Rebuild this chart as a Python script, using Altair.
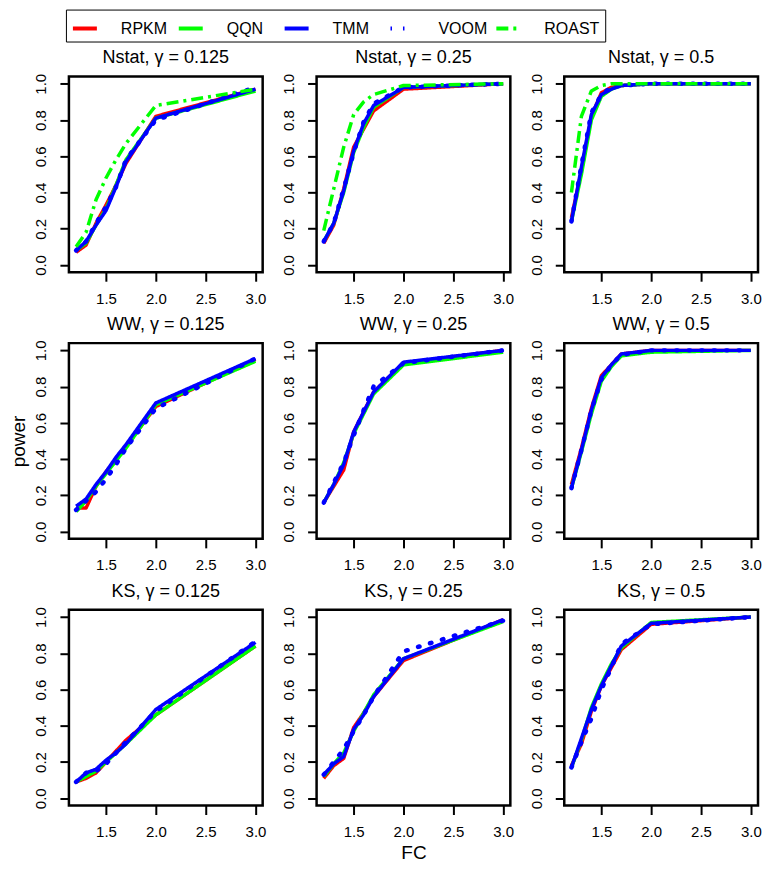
import altair as alt
import pandas as pd

FC = [1.2, 1.3, 1.4, 1.5, 1.6, 1.7, 2.0, 3.0]
METHODS = ["RPKM", "QQN", "TMM", "VOOM", "ROAST"]
COLORS = ["#FF0000", "#00FF00", "#0000FF", "#0000FF", "#00FF00"]
DASHES = [[1, 0], [1, 0], [1, 0], [1.5, 11], [12, 5, 3, 5]]
TESTS = ["Nstat", "WW", "KS"]
GAMMAS = ["0.125", "0.25", "0.5"]

# ---- Nstat ----
nstat_0125 = {
    "RPKM": [0.07, 0.11, 0.23, 0.33, 0.44, 0.56, 0.82, 0.97],
    "QQN": [0.08, 0.12, 0.22, 0.31, 0.44, 0.58, 0.81, 0.96],
    "TMM": [0.08, 0.13, 0.22, 0.30, 0.43, 0.57, 0.81, 0.97],
    "VOOM": [0.08, 0.13, 0.23, 0.32, 0.43, 0.58, 0.80, 0.98],
    "ROAST": [0.10, 0.18, 0.36, 0.48, 0.58, 0.67, 0.88, 0.97],
}
nstat_025 = {
    "RPKM": [0.12, 0.22, 0.42, 0.65, 0.75, 0.85, 0.97, 1.00],
    "QQN": [0.13, 0.23, 0.40, 0.62, 0.76, 0.87, 0.98, 1.00],
    "TMM": [0.13, 0.23, 0.41, 0.63, 0.78, 0.88, 0.98, 1.00],
    "VOOM": [0.13, 0.23, 0.42, 0.62, 0.79, 0.89, 0.98, 1.00],
    "ROAST": [0.19, 0.42, 0.65, 0.83, 0.90, 0.94, 0.99, 1.00],
}
nstat_05 = {
    "RPKM": [0.26, 0.52, 0.82, 0.95, 0.98, 0.99, 1.00, 1.00],
    "QQN": [0.24, 0.50, 0.80, 0.93, 0.97, 0.99, 1.00, 1.00],
    "TMM": [0.24, 0.54, 0.83, 0.94, 0.97, 0.99, 1.00, 1.00],
    "VOOM": [0.24, 0.55, 0.84, 0.94, 0.98, 0.99, 1.00, 1.00],
    "ROAST": [0.40, 0.82, 0.96, 0.99, 1.00, 1.00, 1.00, 1.00],
}
# ---- WW ----
ww_0125 = {
    "RPKM": [0.13, 0.13, 0.25, 0.33, 0.40, 0.47, 0.69, 0.95],
    "QQN": [0.11, 0.17, 0.25, 0.32, 0.39, 0.46, 0.70, 0.94],
    "TMM": [0.14, 0.18, 0.26, 0.33, 0.41, 0.48, 0.71, 0.955],
    "VOOM": [0.12, 0.17, 0.22, 0.29, 0.37, 0.46, 0.68, 0.955],
}
ww_025 = {
    "RPKM": [0.16, 0.25, 0.34, 0.55, 0.66, 0.77, 0.93, 1.00],
    "QQN": [0.16, 0.26, 0.38, 0.54, 0.65, 0.76, 0.92, 0.99],
    "TMM": [0.16, 0.26, 0.37, 0.55, 0.66, 0.77, 0.935, 1.00],
    "VOOM": [0.16, 0.27, 0.38, 0.53, 0.67, 0.80, 0.93, 1.00],
}
ww_05 = {
    "RPKM": [0.26, 0.46, 0.68, 0.86, 0.92, 0.98, 1.00, 1.00],
    "QQN": [0.24, 0.44, 0.65, 0.83, 0.91, 0.97, 0.99, 1.00],
    "TMM": [0.24, 0.45, 0.67, 0.85, 0.92, 0.98, 1.00, 1.00],
    "VOOM": [0.24, 0.45, 0.67, 0.84, 0.92, 0.975, 1.00, 1.00],
}
# ---- KS ----
ks_0125 = {
    "RPKM": [0.09, 0.11, 0.14, 0.20, 0.26, 0.32, 0.46, 0.84],
    "QQN": [0.09, 0.12, 0.15, 0.20, 0.25, 0.30, 0.46, 0.84],
    "TMM": [0.09, 0.14, 0.16, 0.21, 0.25, 0.30, 0.49, 0.86],
    "VOOM": [0.09, 0.14, 0.15, 0.19, 0.25, 0.31, 0.48, 0.865],
}
ks_025 = {
    "RPKM": [0.11, 0.18, 0.22, 0.39, 0.47, 0.56, 0.76, 0.985],
    "QQN": [0.12, 0.19, 0.25, 0.37, 0.47, 0.57, 0.77, 0.975],
    "TMM": [0.13, 0.19, 0.23, 0.38, 0.46, 0.56, 0.77, 0.985],
    "VOOM": [0.13, 0.20, 0.27, 0.37, 0.46, 0.56, 0.81, 0.98],
}
ks_05 = {
    "RPKM": [0.18, 0.30, 0.48, 0.62, 0.72, 0.82, 0.96, 1.00],
    "QQN": [0.17, 0.32, 0.50, 0.63, 0.74, 0.83, 0.97, 1.00],
    "TMM": [0.17, 0.33, 0.49, 0.62, 0.73, 0.84, 0.965, 1.00],
    "VOOM": [0.17, 0.31, 0.44, 0.60, 0.72, 0.85, 0.96, 1.00],
}

PANELS = [
    ("Nstat", "0.125", nstat_0125), ("Nstat", "0.25", nstat_025), ("Nstat", "0.5", nstat_05),
    ("WW", "0.125", ww_0125), ("WW", "0.25", ww_025), ("WW", "0.5", ww_05),
    ("KS", "0.125", ks_0125), ("KS", "0.25", ks_025), ("KS", "0.5", ks_05),
]

FONT = "Liberation Sans"
PW, PH = 194, 196

color_scale = alt.Scale(domain=METHODS, range=COLORS)
dash_scale = alt.Scale(domain=METHODS, range=DASHES)

legend = alt.Legend(
    title=None,
    orient="none",
    legendX=-3,
    legendY=-67,
    direction="horizontal",
    columns=5,
    gridAlign="all",
    columnPadding=-6.5,
    labelOffset=22,
    labelFont=FONT,
    labelFontSize=16,
    labelColor="black",
    symbolType="stroke",
    symbolSize=576,
    symbolStrokeWidth=4,
    padding=5,
    strokeColor="black",
)


def make_panel(i, test, gamma, vals):
    row, col = divmod(i, 3)
    rows = []
    for m in METHODS:
        if m in vals:
            for x, y in zip(FC, vals[m]):
                rows.append({"method": m, "fc": x, "power": y})
    df = pd.DataFrame(rows)

    x_axis = alt.Axis(
        values=[1.5, 2.0, 2.5, 3.0], format=".1f",
        title="FC" if (row == 2 and col == 1) else "",
        titleFont=FONT, titleFontSize=19, titleFontWeight="normal", titleColor="black",
        titleBaseline="alphabetic", titleY=53, titleX=PW / 2, titleAlign="center",
    )
    y_axis = alt.Axis(
        values=[0.0, 0.2, 0.4, 0.6, 0.8, 1.0], format=".1f",
        title="power" if (row == 1 and col == 0) else "",
        titleFont=FONT, titleFontSize=19, titleFontWeight="normal", titleColor="black",
        titleAngle=270, titleBaseline="alphabetic", titleAlign="center",
        titleX=-44, titleY=PH / 2,
    )
    base = alt.Chart(df).encode(
        x=alt.X("fc:Q", scale=alt.Scale(domain=[1.128, 3.072], nice=False, zero=False), axis=x_axis),
        y=alt.Y("power:Q", scale=alt.Scale(domain=[-0.04, 1.04], nice=False, zero=False), axis=y_axis),
        color=alt.Color("method:N", scale=color_scale, legend=legend),
        strokeDash=alt.StrokeDash("method:N", scale=dash_scale, legend=legend),
    )
    layers = []
    for m in METHODS:
        if m not in vals:
            continue
        if m == "VOOM":
            mk = dict(strokeWidth=4.5, strokeCap="round")
        else:
            mk = dict(strokeWidth=3.5, strokeJoin="round")
        layers.append(base.transform_filter(alt.datum.method == m).mark_line(**mk))
    return alt.layer(*layers).properties(
        width=PW, height=PH,
        title=alt.TitleParams(text=f"{test}, \u03b3 = {gamma}"),
    )


panels = [make_panel(i, t, g, v) for i, (t, g, v) in enumerate(PANELS)]

chart = (
    alt.concat(*panels, columns=3, spacing={"row": 71, "column": 54}, bounds="flush")
    .resolve_scale(color="shared", strokeDash="shared")
    .resolve_legend(color="shared", strokeDash="shared")
    .properties(padding=0, background="white")
    .configure_view(stroke="black", strokeWidth=2.5)
    .configure_axis(
        domain=False, grid=False, tickColor="black", tickWidth=2, tickSize=9,
        labelFont=FONT, labelFontSize=15, labelColor="black",
    )
    .configure_axisX(labelPadding=10)
    .configure_axisY(labelAngle=270, labelAlign="center", labelBaseline="alphabetic", labelPadding=14)
    .configure_title(
        font=FONT, fontSize=18, fontWeight="normal", color="black",
        offset=6, baseline="alphabetic", anchor="middle", frame="group",
    )
)

chart.save("out.html", embed_options={"renderer": "svg", "actions": False})
